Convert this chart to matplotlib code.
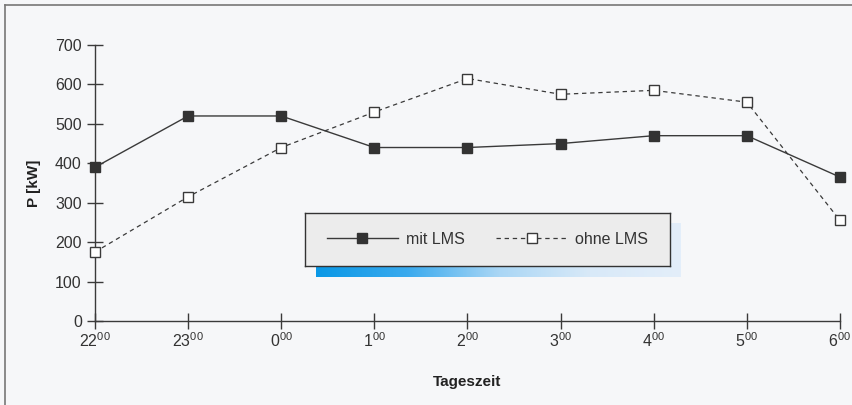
import numpy as np
import matplotlib.pyplot as plt
from matplotlib.lines import Line2D
from matplotlib.colors import LinearSegmentedColormap

plt.rcParams['font.family'] = ['Liberation Sans', 'DejaVu Sans']
plt.rcParams['mathtext.fontset'] = 'custom'
plt.rcParams['mathtext.rm'] = 'Liberation Sans'

#%% Data
hours = ['22', '23', '0', '1', '2', '3', '4', '5', '6']
mit_lms = [390, 520, 520, 440, 440, 450, 470, 470, 365]
ohne_lms = [175, 315, 440, 530, 615, 575, 585, 555, 255]
y_ticks = [0, 100, 200, 300, 400, 500, 600, 700]

ink = '#3a3a3a'
bg = '#f6f7f9'

fig = plt.figure(figsize=(8.53, 4.05), dpi=100, facecolor=bg)
ax = fig.add_axes([95/853, 84/405, 745/853, 276/405])
ax.set_facecolor('none')

x = np.arange(len(hours))
ax.plot(x, mit_lms, '-', color=ink, lw=1.0, marker='s', ms=7,
        mfc='#333333', mec='#333333', clip_on=False, zorder=4, label='mit LMS')
ax.plot(x, ohne_lms, '--', color=ink, lw=0.9, dashes=(3.5, 3), marker='s', ms=7,
        mfc='white', mec=ink, mew=1.0, clip_on=False, zorder=4, label='ohne LMS')

ax.set_xlim(0, len(hours) - 1)
ax.set_ylim(0, 700)
ax.set_xticks(x)
ax.set_xticklabels([r'$\mathregular{' + h + '^{00}}$' for h in hours])
ax.set_yticks(y_ticks)

for s in ['top', 'right']:
    ax.spines[s].set_visible(False)
for s in ['left', 'bottom']:
    ax.spines[s].set_color(ink)
    ax.spines[s].set_linewidth(1.0)

ax.tick_params(direction='inout', length=11, width=1.0, color=ink,
               labelcolor='#333333', labelsize=11.5)
ax.tick_params(axis='x', pad=2)
ax.tick_params(axis='y', pad=4)

ax.set_xlabel('Tageszeit', fontsize=11, fontweight='bold', color='#222222', labelpad=18)
ax.set_ylabel('P [kW]', fontsize=11, fontweight='bold', color='#222222', labelpad=10)

# blue shadow behind the legend box
sh = fig.add_axes([316/853, 128/405, 364/853, 54/405])
sh.axis('off')
cmap = LinearSegmentedColormap.from_list('shadow', ['#0a98e6', '#3aaaee', '#a9d6f5', '#d8e9f8', '#e3eefa'])
sh.imshow(np.linspace(0, 1, 256)[None, :], aspect='auto', cmap=cmap, extent=[0, 1, 0, 1])
sh.set_zorder(5)

# legend box
box = fig.add_axes([305/853, 139/405, 365/853, 53/405])
box.set_zorder(6)
box.set_xticks([])
box.set_yticks([])
box.set_facecolor('#ececec')
for s in box.spines.values():
    s.set_color('#333333')
    s.set_linewidth(1.0)
h, l = ax.get_legend_handles_labels()
box.legend(h, l, loc='center', ncol=2, frameon=False, fontsize=11.5,
           handlelength=4.4, columnspacing=2.0, handletextpad=0.5,
           labelcolor='#333333')

# figure frame (left and top edges)
fig.add_artist(Line2D([5/853, 5/853], [0, 1 - 5/405], transform=fig.transFigure,
                      color='#777777', lw=1.2))
fig.add_artist(Line2D([5/853, 1], [1 - 5/405, 1 - 5/405], transform=fig.transFigure,
                      color='#777777', lw=1.2))

fig.savefig('out.png', dpi=100, facecolor=bg)
